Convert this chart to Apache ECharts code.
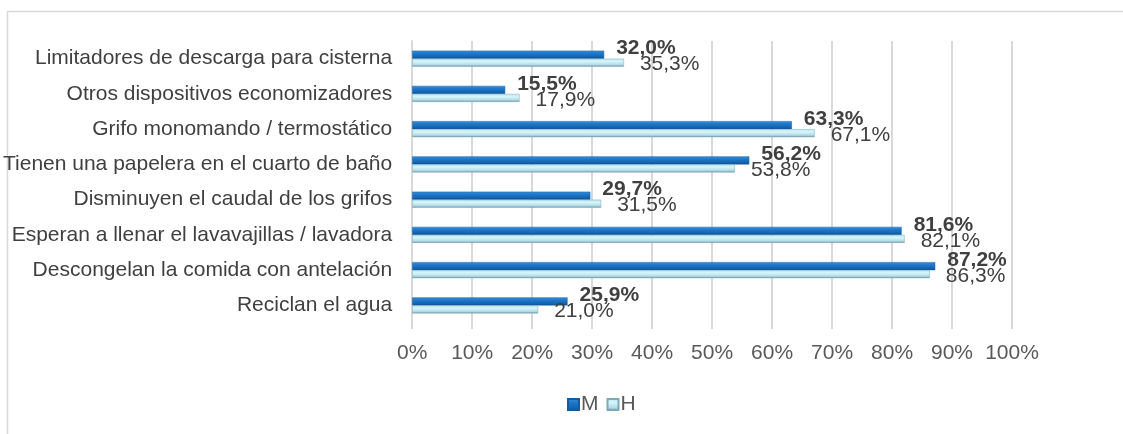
<!DOCTYPE html>
<html><head><meta charset="utf-8">
<script src="https://cdn.jsdelivr.net/npm/echarts@6/dist/echarts.min.js"></script>
<style>html,body{margin:0;padding:0;background:#fff}#c{width:1123px;height:434px}</style>
</head><body><div id="c"></div>
<script>
const categories = [
  "Limitadores de descarga para cisterna",
  "Otros dispositivos economizadores",
  "Grifo monomando / termostático",
  "Tienen una papelera en el cuarto de baño",
  "Disminuyen el caudal de los grifos",
  "Esperan a llenar el lavavajillas / lavadora",
  "Descongelan la comida con antelación",
  "Reciclan el agua"
];
const seriesM = [32.0, 15.5, 63.3, 56.2, 29.7, 81.6, 87.2, 25.9];
const seriesH = [35.3, 17.9, 67.1, 53.8, 31.5, 82.1, 86.3, 21.0];
const seriesNames = ["M", "H"];

const FONT = "'Liberation Sans Narrow', 'Arial Narrow', 'Liberation Sans', Arial, sans-serif";
const fmt = v => v.toFixed(1).replace('.', ',') + '%';

const chart = echarts.init(document.getElementById('c'), null, {renderer: 'canvas'});
const catsRev = categories.slice().reverse();
const mRev = seriesM.slice().reverse();
const hRev = seriesH.slice().reverse();

const gradM = new echarts.graphic.LinearGradient(0,0,0,1,[
  {offset:0, color:'#3a8fd8'},{offset:0.35,color:'#1e78cc'},{offset:0.75,color:'#1565b0'},{offset:1,color:'#0f4f8c'}]);
const gradH = new echarts.graphic.LinearGradient(0,0,0,1,[
  {offset:0, color:'#b9e6f0'},{offset:0.35,color:'#d6f6fb'},{offset:0.75,color:'#b3dce6'},{offset:1,color:'#6f9aa8'}]);

chart.setOption({
  animation:false,
  textStyle:{fontFamily:FONT},
  graphic:[{type:'rect', shape:{x:7.5,y:11.5,width:1200,height:600}, style:{fill:'none', stroke:'#d9d9d9', lineWidth:1.5}, z:-1, silent:true}],
  grid:{left:412, right:111, top:41, bottom:111, containLabel:false},
  legend:{
    data:seriesNames, bottom:14, left:562, itemWidth:11, itemHeight:11, itemGap:8,
    textStyle:{fontFamily:FONT, fontSize:21, color:'#595959', padding:[0,0,0,-3]}, icon:'rect'
  },
  xAxis:{
    type:'value', min:0, max:100, interval:10,
    axisLabel:{formatter:'{value}%', fontFamily:FONT, fontSize:21, color:'#595959', margin:20},
    splitLine:{show:true, lineStyle:{color:'#d9d9d9', width:2}},
    axisLine:{show:false}, axisTick:{show:true, length:6, lineStyle:{color:'#d9d9d9', width:2}}
  },
  yAxis:{
    type:'category', data:catsRev,
    axisLabel:{fontFamily:FONT, fontSize:21, color:'#404040', margin:20},
    axisLine:{show:true, lineStyle:{color:'#d9d9d9', width:2}}, axisTick:{show:false}
  },
  series:[
    {name:'M', type:'bar', data:mRev, barWidth:8, barGap:'0%', barCategoryGap:'55%',
     itemStyle:{color:gradM, borderColor:'#135a9e', borderWidth:0.5},
     label:{show:true, position:'right', distance:12, offset:[0,-6], formatter:p=>fmt(p.value),
            fontFamily:FONT, fontSize:21, fontWeight:'bold', color:'#404040'}},
    {name:'H', type:'bar', data:hRev, barWidth:8,
     itemStyle:{color:gradH, borderColor:'#7ea9b6', borderWidth:0.5},
     label:{show:true, position:'right', distance:16, offset:[0,2], formatter:p=>fmt(p.value),
            fontFamily:FONT, fontSize:21, color:'#404040'}}
  ]
});
</script></body></html>
